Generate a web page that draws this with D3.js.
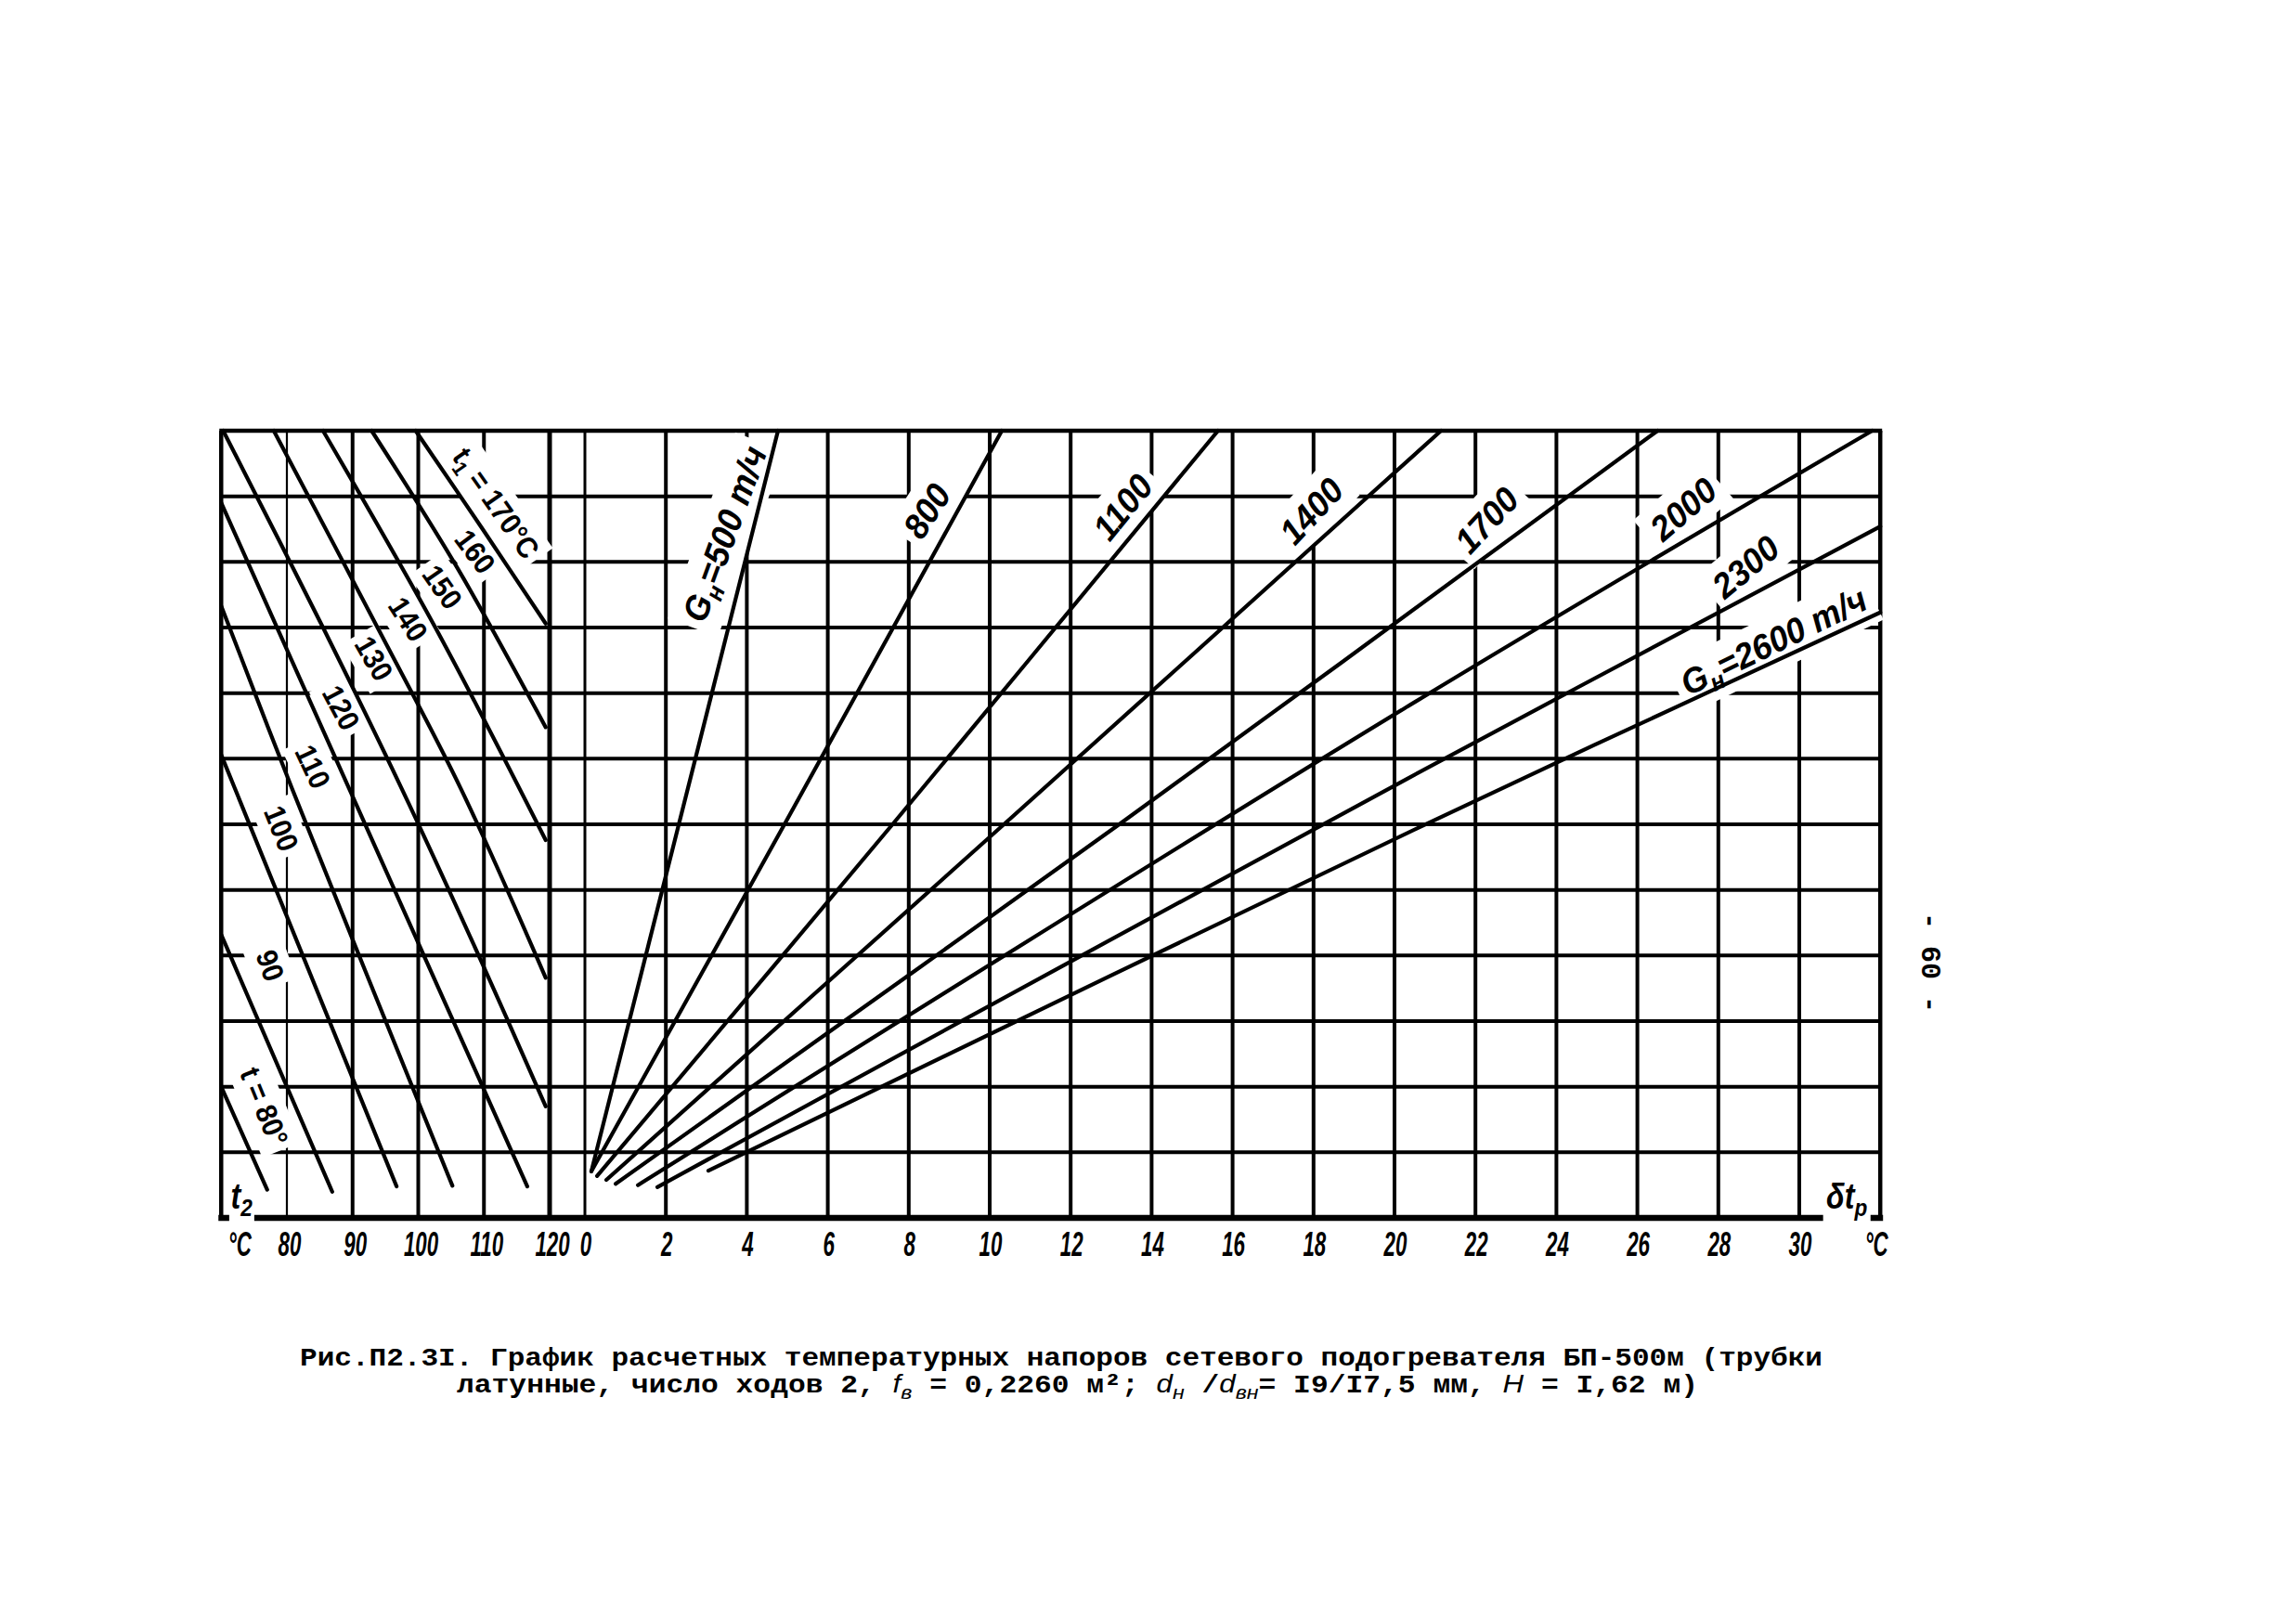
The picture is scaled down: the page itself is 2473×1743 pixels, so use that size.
<!DOCTYPE html>
<html><head><meta charset="utf-8">
<script src="https://cdn.jsdelivr.net/npm/d3@7"></script>
<style>
html,body{margin:0;padding:0;background:#fff;}
svg{display:block;}
</style></head><body>
<svg id="chart" width="2473" height="1743"></svg>
<script>
// ---------------- data ----------------
const levels = d3.range(0, 13);                 // unlabeled nomogram rows (0 = bottom axis)
const t2Ticks = [80, 90, 100, 110, 120];        // left scale, t2 °C
const t2Min = 70;                               // left frame
const dtTicks = d3.range(0, 31, 2);             // right scale, δt_р °C
const dtMax = 32;                               // right frame

// t1 curves: [t2 (°C), row level]
const t1Names = ["170", "160", "150", "140", "130", "120", "110", "100", "90", "80"];
const t1_170 = [[99.6, 12], [109.8, 10.5], [119.4, 9.06]];
const t1_160 = [[92.9, 12], [106.0, 9.9], [119.4, 7.48]];
const t1_150 = [[85.5, 12], [102.6, 9], [119.4, 5.76]];
const t1_140 = [[78.0, 12], [93.8, 9], [106.5, 6.54], [119.4, 3.66]];
const t1_130 = [[70.3, 12], [85.5, 9], [97.5, 6.54], [109.2, 4], [119.4, 1.7]];
const t1_120 = [[70.0, 10.9], [89.5, 6.54], [116.6, 0.48]];
const t1_110 = [[70.0, 9.33], [80.8, 6.54], [105.2, 0.49]];
const t1_100 = [[70.0, 7.06], [96.7, 0.48]];
const t1_90 = [[70.0, 4.32], [86.9, 0.40]];
const t1_80 = [[70.0, 2.0], [77.0, 0.43]];
const t1Curves = [t1_170, t1_160, t1_150, t1_140, t1_130, t1_120, t1_110, t1_100, t1_90, t1_80];

// G_н lines: [δt_р (°C), row level]
const gNames = ["500", "800", "1100", "1400", "1700", "2000", "2300", "2600"];
const g500 = [[0.16, 0.71], [2.32, 6], [4.77, 12]];
const g800 = [[0.16, 0.71], [4.93, 6], [10.3, 12]];
const g1100 = [[0.30, 0.64], [7.6, 6], [15.64, 12]];
const g1400 = [[0.53, 0.58], [10.55, 6.11], [21.15, 12]];
const g1700 = [[0.76, 0.52], [13.2, 6], [26.5, 12]];
const g2000 = [[1.31, 0.50], [20.25, 7.77], [31.8, 12]];
const g2300 = [[1.79, 0.47], [20.18, 6.65], [32, 10.54]];
const g2600 = [[3.05, 0.72], [20.8, 6.01], [32, 9.23]];
const gLines = [g500, g800, g1100, g1400, g1700, g2000, g2300, g2600];

const captionLine1 = "Рис.П2.3I. График расчетных температурных напоров сетевого подогревателя БП-500м (трубки";
const pageNumber = "- 60 -";

// ---------------- layout ----------------
const svg = d3.select("#chart");
const y = d3.scaleLinear().domain([0, 12]).range([1312, 464]);
const xT2 = d3.scaleLinear().domain([80, 120]).range([309, 592]);
const xDt = d3.scaleLinear().domain([0, 30]).range([630, 1938]);

const gridL = svg.append("g");
const bgL = svg.append("g");
const curveL = svg.append("g");
const textL = svg.append("g");

const xL = xT2(t2Min), xR = xDt(dtMax);

// horizontal rows
gridL.selectAll("line.h").data(levels.filter(d => d > 0 && d < 12)).join("line")
  .attr("x1", xL).attr("x2", xR).attr("y1", d => y(d)).attr("y2", d => y(d))
  .attr("stroke", "#000").attr("stroke-width", 4);
// verticals, left part
gridL.selectAll("line.t2").data(t2Ticks).join("line")
  .attr("x1", d => xT2(d)).attr("x2", d => xT2(d)).attr("y1", y(12)).attr("y2", y(0))
  .attr("stroke", "#000").attr("stroke-width", d => d === 80 ? 2.2 : d === 120 ? 5 : 4);
// verticals, right part
gridL.selectAll("line.dt").data(dtTicks).join("line")
  .attr("x1", d => xDt(d)).attr("x2", d => xDt(d)).attr("y1", y(12)).attr("y2", y(0))
  .attr("stroke", "#000").attr("stroke-width", d => d === 0 ? 3 : 4);
// frame
gridL.append("line").attr("x1", xL - 2).attr("x2", xR + 2).attr("y1", y(12)).attr("y2", y(12)).attr("stroke", "#000").attr("stroke-width", 4.5);
gridL.append("line").attr("x1", xL).attr("x2", xL).attr("y1", y(12)).attr("y2", y(0)).attr("stroke", "#000").attr("stroke-width", 4.5);
gridL.append("line").attr("x1", xR).attr("x2", xR).attr("y1", y(12)).attr("y2", y(0)).attr("stroke", "#000").attr("stroke-width", 4.5);
gridL.append("line").attr("x1", xL - 3).attr("x2", xR + 3).attr("y1", y(0)).attr("y2", y(0)).attr("stroke", "#000").attr("stroke-width", 6.5);

// curves
const lineT2 = d3.line().x(d => xT2(d[0])).y(d => y(d[1])).curve(d3.curveCatmullRom.alpha(0.5));
const lineDt = d3.line().x(d => xDt(d[0])).y(d => y(d[1])).curve(d3.curveCatmullRom.alpha(0.5));
curveL.selectAll("path.t1").data(t1Curves).join("path")
  .attr("d", lineT2).attr("fill", "none").attr("stroke", "#000").attr("stroke-width", 4.2).attr("stroke-linecap", "round");
curveL.selectAll("path.g").data(gLines).join("path")
  .attr("d", lineDt).attr("fill", "none").attr("stroke", "#000").attr("stroke-width", 4.2).attr("stroke-linecap", "round");

// ---------------- labels ----------------
const LBL_FONT = "'Liberation Sans', 'DejaVu Sans', sans-serif";
function label(x, yy, angle, parts, cfg) {
  const tr = `translate(${x},${yy}) rotate(${angle}) scale(${cfg.sx},1)`;
  const g = textL.append("g").attr("transform", tr);
  const t = g.append("text").attr("text-anchor", cfg.anchor || "middle")
    .attr("font-family", cfg.family || LBL_FONT).attr("font-size", cfg.size)
    .attr("font-weight", cfg.weight || "bold").attr("font-style", cfg.italic ? "italic" : "normal")
    .attr("y", cfg.size * 0.36).attr("fill", "#000");
  parts.forEach(p => {
    const ts = t.append("tspan").text(p.t);
    if (p.sub) ts.attr("baseline-shift", "-30%").attr("font-size", cfg.size * 0.7);
  });
  if (cfg.pad !== undefined) {
    const bb = t.node().getBBox();
    bgL.append("rect").attr("transform", tr)
      .attr("x", bb.x - cfg.pad).attr("y", bb.y - cfg.pad * 0.6)
      .attr("width", bb.width + 2 * cfg.pad).attr("height", bb.height + 1.2 * cfg.pad)
      .attr("fill", "#fff");
  }
}

// right-part labels (δt, level, angle)
const rightCfg = {size: 38, sx: 0.95, italic: true, pad: 8};
label(xDt(3.44), y(10.43), -70, [{t: "G"}, {t: "н", sub: true}, {t: "=500 т/ч"}], rightCfg);
label(xDt(8.44), y(10.78), -57, [{t: gNames[1]}], rightCfg);
label(xDt(13.28), y(10.84), -51, [{t: gNames[2]}], rightCfg);
label(xDt(17.94), y(10.78), -47, [{t: gNames[3]}], rightCfg);
label(xDt(22.27), y(10.64), -47, [{t: gNames[4]}], rightCfg);
label(xDt(27.13), y(10.81), -41, [{t: gNames[5]}], rightCfg);
label(xDt(28.67), y(9.93), -40, [{t: gNames[6]}], rightCfg);
label(xDt(29.36), y(8.80), -26, [{t: "G"}, {t: "н", sub: true}, {t: "=2600 т/ч"}], rightCfg);

// left-part labels (t2, level, angle)
const leftCfg = {size: 32, sx: 0.92, italic: false, pad: 7};
label(xT2(111.9), y(10.9), 55, [{t: "t"}, {t: "1", sub: true}, {t: " = 170°C"}], leftCfg);
label(xT2(108.7), y(10.16), 53, [{t: t1Names[1]}], leftCfg);
label(xT2(103.7), y(9.62), 55, [{t: t1Names[2]}], leftCfg);
label(xT2(98.5), y(9.13), 57, [{t: t1Names[3]}], leftCfg);
label(xT2(93.3), y(8.53), 60, [{t: t1Names[4]}], leftCfg);
label(xT2(88.3), y(7.78), 62, [{t: t1Names[5]}], leftCfg);
label(xT2(84.0), y(6.88), 65, [{t: t1Names[6]}], leftCfg);
label(xT2(79.2), y(5.94), 68, [{t: t1Names[7]}], leftCfg);
label(xT2(77.5), y(3.85), 70, [{t: t1Names[8]}], leftCfg);
label(xT2(76.6), y(1.70), 68, [{t: "t = 80°"}], leftCfg);

// axis names
label(xL + 22, y(0) - 24, 0, [{t: "t"}, {t: "2", sub: true}], {size: 38, sx: 0.85, italic: true, pad: 2});
label(xR - 36, y(0) - 24, 0, [{t: "δt"}, {t: "р", sub: true}], {size: 38, sx: 0.85, italic: true, pad: 4});

// tick labels
const tickCfg = {size: 36, sx: 0.62, italic: true};
const tickY = 1340;
t2Ticks.forEach(v => label(xT2(v) + 3, tickY, 0, [{t: String(v)}], tickCfg));
dtTicks.forEach(v => label(xDt(v) + 1, tickY, 0, [{t: String(v)}], tickCfg));
label(xL + 20, tickY, 0, [{t: "°C"}], tickCfg);
label(xR - 4, tickY, 0, [{t: "°C"}], tickCfg);

// caption
const cap = svg.append("g").attr("font-family", "'Liberation Mono', 'DejaVu Sans Mono', monospace")
  .attr("font-weight", "bold").attr("fill", "#000");
cap.append("text").attr("x", 323).attr("y", 1471).attr("font-size", 27)
  .attr("textLength", 1640).attr("lengthAdjust", "spacingAndGlyphs").text(captionLine1);
const c2 = cap.append("text").attr("x", 492).attr("y", 1500).attr("font-size", 27)
  .attr("textLength", 1337).attr("lengthAdjust", "spacingAndGlyphs");
[["латунные, число ходов 2, "], ["f", "i"], ["в", "s"], [" = 0,2260 м²; "], ["d", "i"], ["н", "s"],
 [" /"], ["d", "i"], ["вн", "s"], ["= I9/I7,5 мм, "], ["H", "i"], [" = I,62 м)"]].forEach(p => {
  const ts = c2.append("tspan").text(p[0]);
  if (p[1] === "i") ts.attr("font-style", "italic").attr("font-weight", "normal").attr("font-family", "'Liberation Sans', sans-serif");
  if (p[1] === "s") ts.attr("font-style", "italic").attr("font-weight", "normal").attr("font-family", "'Liberation Sans', sans-serif")
    .attr("font-size", 20).attr("baseline-shift", "-35%");
});

// page number
svg.append("text").attr("transform", "translate(2080,1037) rotate(90)")
  .attr("text-anchor", "middle").attr("y", 10)
  .attr("font-family", "'Liberation Mono', monospace").attr("font-size", 30).attr("font-weight", "bold")
  .text(pageNumber);
</script>
</body></html>
